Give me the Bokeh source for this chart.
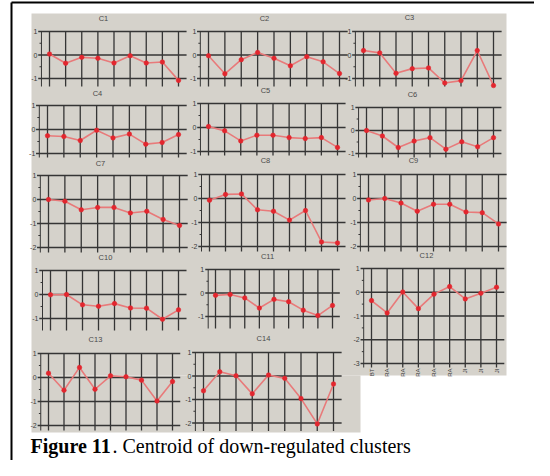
from bokeh.plotting import figure
from bokeh.models import Range1d
from bokeh.embed import file_html
from bokeh.resources import INLINE
from bokeh.core.properties import value

# ---------------- data ----------------
samples = list(range(9))
sample_labels = ["BT", "RA", "RA", "RA", "RA", "RA", "JI", "JI", "JI"]

c1 = [0.04, -0.35, -0.10, -0.14, -0.34, -0.03, -0.34, -0.30, -1.08]
c2 = [-0.03, -0.80, -0.20, 0.11, -0.14, -0.46, -0.07, -0.29, -0.79]
c3 = [0.19, 0.09, -0.78, -0.58, -0.55, -1.19, -1.09, 0.19, -1.30]
c4 = [-0.26, -0.29, -0.46, -0.03, -0.35, -0.19, -0.61, -0.54, -0.21]
c5 = [0.04, -0.14, -0.56, -0.32, -0.32, -0.42, -0.46, -0.42, -0.83]
c6 = [0.00, -0.24, -0.74, -0.46, -0.31, -0.81, -0.49, -0.71, -0.31]
c7 = [0.00, -0.07, -0.43, -0.33, -0.33, -0.56, -0.49, -0.83, -1.08]
c8 = [-0.07, 0.17, 0.19, -0.47, -0.53, -0.90, -0.50, -1.81, -1.85]
c9 = [-0.06, 0.00, -0.19, -0.53, -0.24, -0.24, -0.56, -0.59, -1.06]
c10 = [-0.01, 0.00, -0.43, -0.49, -0.38, -0.56, -0.57, -1.03, -0.64]
c11 = [-0.10, -0.06, -0.21, -0.64, -0.27, -0.37, -0.73, -0.96, -0.53]
c12 = [-0.35, -0.87, 0.01, -0.69, -0.08, 0.24, -0.28, -0.04, 0.21]
c13 = [0.18, -0.53, 0.42, -0.49, 0.07, 0.03, -0.11, -0.98, -0.17]
c14 = [-0.63, 0.18, 0.01, -0.76, 0.04, -0.10, -0.96, -2.04, -0.34]

cluster_names = ["C1", "C2", "C3", "C4", "C5", "C6", "C7",
                 "C8", "C9", "C10", "C11", "C12", "C13", "C14"]
cluster_values = [c1, c2, c3, c4, c5, c6, c7, c8, c9, c10, c11, c12, c13, c14]
cluster_ymin = [-1, -1, -1, -1, -1, -1, -2, -2, -2, -1, -1, -3, -2, -2]

caption_bold = "Figure 11"
caption_rest = ". Centroid of down-regulated clusters"

# ---------------- layout (pixels) ----------------
# first point x, last point x, y of value 1, px per unit, tick extension px, title x, title y
panel_layout = [
    (49, 178, 31, 23.5, 8, 103, 18),
    (208, 339, 31, 23.5, 8, 264, 18),
    (363, 493, 31, 23.5, 8, 409, 17),
    (47, 178, 105, 24.0, 4, 97, 93),
    (208, 337, 103, 24.0, 4, 265, 90),
    (366, 493, 107, 23.0, 4, 412, 94),
    (48, 179, 175, 24.0, 5, 100, 163),
    (209, 337, 174, 24.0, 5, 265, 160),
    (368, 498, 174, 24.0, 5, 413, 160),
    (50, 178, 270, 24.0, 12, 105, 257),
    (215, 332, 269, 23.5, 12, 267, 256),
    (371, 496, 268, 23.75, 4, 426, 255),
    (48, 172, 353, 24.0, 5, 95, 339),
    (203, 333, 352, 23.5, 8, 263, 338),
]

W, H = 534, 460
BG = "#d5d2cb"
GRID = "#353535"
RED_LINE = "#e87a7a"
RED_DOT = "#e3262e"
TXT = "#3a3a3a"

p = figure(width=W, height=H, output_backend="svg", toolbar_location=None,
           x_range=Range1d(0, W), y_range=Range1d(H, 0),
           x_axis_location=None, y_axis_location=None, min_border=0,
           background_fill_color="white", border_fill_color="white",
           outline_line_color=None)
p.grid.visible = False

# gray scanned image area
p.quad(left=[31, 31], right=[506, 360], top=[13, 375], bottom=[375, 432],
       fill_color=BG, line_color=None)

# outer box border
p.segment(x0=[11, 11], y0=[2, 2], x1=[11, W], y1=[H, 2],
          line_color="black", line_width=2)

for name, vals, ymin, lay in zip(cluster_names, cluster_values, cluster_ymin, panel_layout):
    x_first, x_last, y_one, unit, ext, tx, ty = lay
    sp = p.subplot(x_source=Range1d(0, 8), y_source=Range1d(-1, 1),
                   x_target=Range1d(x_first, x_last),
                   y_target=Range1d(y_one + 2 * unit, y_one))
    ext_u = ext / unit
    levels = list(range(1, ymin - 1, -1))
    # horizontal grid lines at integer levels
    sp.segment(x0=[-0.7] * len(levels), x1=[8.5] * len(levels),
               y0=levels, y1=levels, line_color=GRID, line_width=1.3)
    # vertical lines at each sample
    sp.segment(x0=samples, x1=samples, y0=[1] * 9, y1=[ymin - ext_u] * 9,
               line_color=GRID, line_width=1.3)
    # left axis line + minor ticks
    sp.segment(x0=[-0.5], x1=[-0.5], y0=[1], y1=[ymin - ext_u],
               line_color=GRID, line_width=1)
    halves = [l - 0.5 for l in levels[:-1]]
    sp.segment(x0=[-0.62] * len(halves), x1=[-0.5] * len(halves),
               y0=halves, y1=halves, line_color=GRID, line_width=1)
    # tick labels
    sp.text(x=[-0.5] * len(levels), y=levels, text=[str(l) for l in levels],
            x_offset=-4, text_align="right", text_baseline="middle",
            text_font=value("Liberation Sans"), text_font_size="7px",
            text_color=TXT)
    # data
    sp.line(x=samples, y=vals, line_color=RED_LINE, line_width=1.6)
    sp.scatter(x=samples, y=vals, size=4.5, fill_color=RED_DOT,
               line_color=RED_DOT, line_alpha=0.6)
    if name == "C12":
        sp.text(x=samples, y=[ymin] * 9, text=sample_labels, angle=1.5708,
                y_offset=5, text_align="right", text_baseline="middle",
                text_font=value("Liberation Sans"), text_font_size="6px",
                text_color=TXT)
    # title
    p.text(x=[tx], y=[ty], text=[name], text_align="center",
           text_baseline="middle", text_font=value("Liberation Sans"),
           text_font_size="7.5px", text_color="#4a4a4a")

# caption
p.text(x=[30], y=[445], text=[caption_bold], text_font=value("Liberation Serif"),
       text_font_style="bold", text_font_size="20px", text_color="black",
       text_baseline="alphabetic")
p.text(x=[112], y=[445], text=[caption_rest], text_font=value("Liberation Serif"),
       text_font_size="20px", text_color="black", text_baseline="alphabetic")

open("out.html", "w").write(file_html(p, INLINE))
